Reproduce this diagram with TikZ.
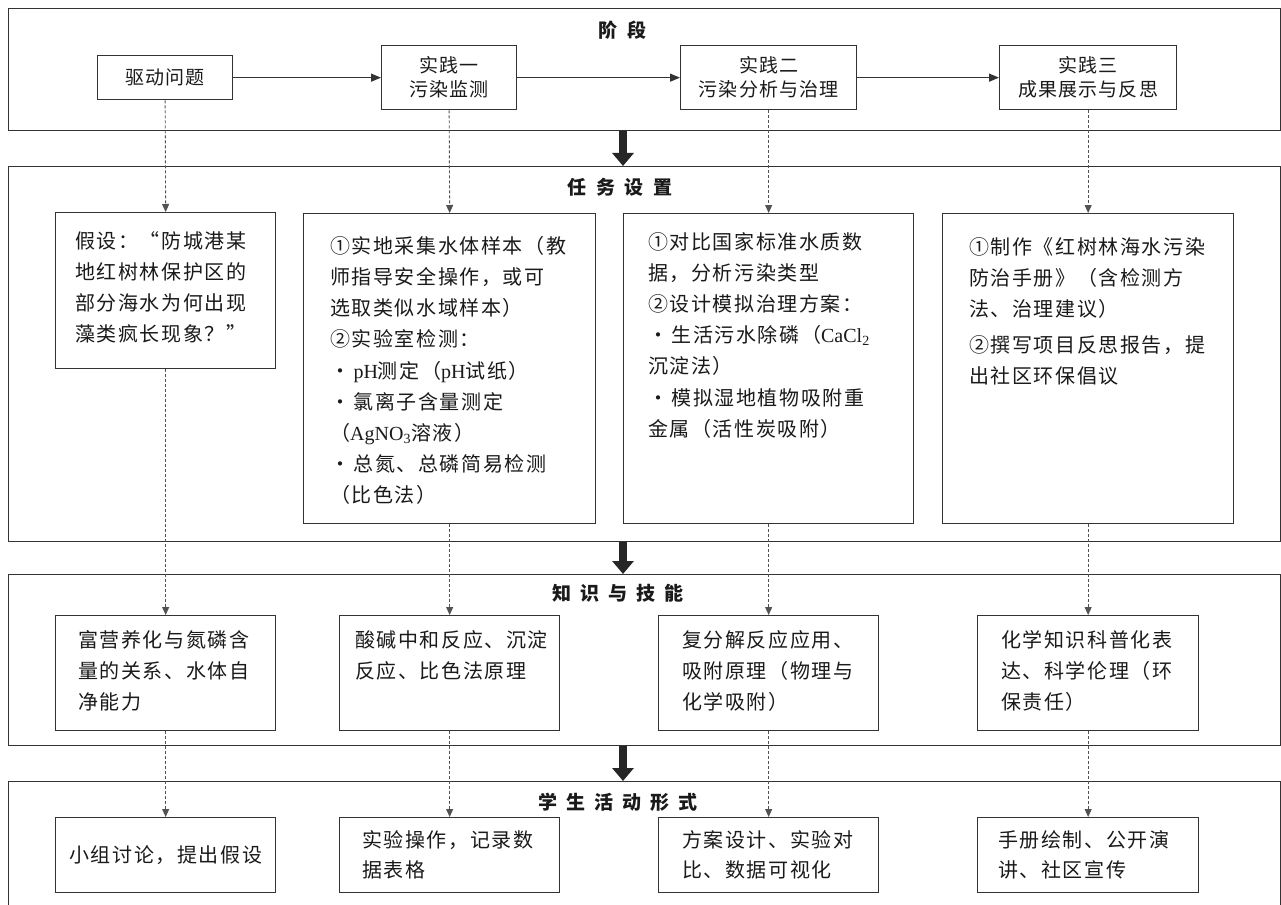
\documentclass[tikz,border=0pt]{standalone}
\usepackage{fontspec}
\setmainfont{Noto Sans CJK SC}
\newfontfamily\lat{Liberation Serif}
\usetikzlibrary{arrows.meta,calc}
\definecolor{lineC}{HTML}{333333}
\definecolor{textC}{HTML}{1A1A1A}
\tikzset{
  bandbox/.style={draw=lineC, line width=1.3pt, inner sep=0pt, anchor=north west},
  boxn/.style={draw=lineC, line width=1.3pt, inner sep=0pt, anchor=north west, fill=white},
  stagebox/.style={boxn, align=center, text=textC,
    font=\fontsize{19}{24}\selectfont\addfontfeature{LetterSpace=6}},
  txt/.style={inner sep=0pt, anchor=north west, align=left, text=textC,
    font=\fontsize{20}{31.2}\selectfont\addfontfeature{LetterSpace=8}},
  txtb/.style={txt, font=\fontsize{20}{30}\selectfont\addfontfeature{LetterSpace=8}},
  ttl/.style={inner sep=0pt, text=textC, font=\fontsize{19}{22}\selectfont\bfseries},
  arr/.style={draw=lineC, line width=1.3pt, -{Triangle[length=10pt,width=8pt]}},
  darr/.style={draw=lineC!85, line width=0.9pt, dash pattern=on 3pt off 2pt,
    -{Triangle[length=8pt,width=7pt]}},
  bigarr/.style={draw=black!85, line width=8pt, -{Triangle[length=13pt,width=21pt]}}
}
\begin{document}
\begin{tikzpicture}[x=1pt,y=-1pt]
\useasboundingbox (0,0) rectangle (1281,904);
\fill[white] (0,0) rectangle (1281,904);
\coordinate (ax) at (623,0);

% ---------- bands ----------
\node[bandbox, minimum width=1272pt, minimum height=122pt] (b1) at (8,8) {};
\node[bandbox, minimum width=1272pt, minimum height=375pt] (b2) at (8,166) {};
\node[bandbox, minimum width=1272pt, minimum height=171pt] (b3) at (8,574) {};
\node[bandbox, minimum width=1272pt, minimum height=130pt] (b4) at (8,781) {};

% ---------- titles ----------
\node[ttl] (h1) at (622,30) {阶\hspace{10pt}段};
\node[ttl] (h2) at (620,187) {任\hspace{10pt}务\hspace{10pt}设\hspace{10pt}置};
\node[ttl] (h3) at (618,593) {知\hspace{9pt}识\hspace{9pt}与\hspace{9pt}技\hspace{9pt}能};
\node[ttl] (h4) at (618,802) {学\hspace{9pt}生\hspace{9pt}活\hspace{9pt}动\hspace{9pt}形\hspace{9pt}式};

% ---------- stage boxes ----------
\node[stagebox, minimum width=135pt, minimum height=44pt] (s0) at (97,55) {驱动问题};
\node[stagebox, minimum width=135pt, minimum height=64pt] (s1) at (381,45) {实践一\\污染监测};
\node[stagebox, minimum width=176pt, minimum height=64pt] (s2) at (680,45) {实践二\\污染分析与治理};
\node[stagebox, minimum width=177pt, minimum height=64pt] (s3) at (999,45) {实践三\\成果展示与反思};
\draw[arr] (s0.east) -- (s0.east -| s1.west);
\draw[arr] (s1.east) -- (s1.east -| s2.west);
\draw[arr] (s2.east) -- (s2.east -| s3.west);

% ---------- task boxes ----------
\node[boxn, minimum width=220pt, minimum height=156pt] (t0) at (55,212) {};
\node[boxn, minimum width=292pt, minimum height=310pt] (t1) at (303,213) {};
\node[boxn, minimum width=290pt, minimum height=310pt] (t2) at (623,213) {};
\node[boxn, minimum width=291pt, minimum height=310pt] (t3) at (942,213) {};

\node[txt] (t0x) at (75,231) {假设：“防城港某\\地红树林保护区的\\部分海水为何出现\\藻类疯长现象？”};
\node[txt] (t1x) at (330,236) {①实地采集水体样本（教\\师指导安全操作，或可\\选取类似水域样本）\\②实验室检测：\\·\,{\lat pH}测定（{\lat pH}试纸）\\·\,氯离子含量测定\\（{\lat AgNO\textsubscript{3}}溶液）\\·\,总氮、总磷简易检测\\（比色法）};
\node[txt] (t2x) at (648,232) {①对比国家标准水质数\\据，分析污染类型\\②设计模拟治理方案：\\·\,生活污水除磷（{\lat CaCl\textsubscript{2}}\\沉淀法）\\·\,模拟湿地植物吸附重\\金属（活性炭吸附）};
\node[txt] (t3x) at (969,237) {①制作《红树林海水污染\\防治手册》（含检测方\\法、治理建议）\\[5pt]②撰写项目反思报告，提\\出社区环保倡议};

% ---------- knowledge boxes ----------
\node[boxn, minimum width=220pt, minimum height=115pt] (k0) at (55,615) {};
\node[boxn, minimum width=220pt, minimum height=115pt] (k1) at (339,615) {};
\node[boxn, minimum width=220pt, minimum height=115pt] (k2) at (658,615) {};
\node[boxn, minimum width=221pt, minimum height=115pt] (k3) at (977,615) {};
\node[txt] (k0x) at (78,630) {富营养化与氮磷含\\量的关系、水体自\\净能力};
\node[txt] (k1x) at (355,630) {酸碱中和反应、沉淀\\反应、比色法原理};
\node[txt] (k2x) at (682,630) {复分解反应应用、\\吸附原理（物理与\\化学吸附）};
\node[txt] (k3x) at (1001,630) {化学知识科普化表\\达、科学伦理（环\\保责任）};

% ---------- activity boxes ----------
\node[boxn, minimum width=220pt, minimum height=75pt, align=center, text=textC,
  font=\fontsize{20}{30}\selectfont\addfontfeature{LetterSpace=8}] (a0) at (55,817) {小组讨论，提出假设};
\node[boxn, minimum width=220pt, minimum height=75pt] (a1) at (339,817) {};
\node[boxn, minimum width=220pt, minimum height=75pt] (a2) at (658,817) {};
\node[boxn, minimum width=221pt, minimum height=75pt] (a3) at (977,817) {};
\node[txtb] (a1x) at (362,830) {实验操作，记录数\\据表格};
\node[txtb] (a2x) at (682,830) {方案设计、实验对\\比、数据可视化};
\node[txtb] (a3x) at (998,830) {手册绘制、公开演\\讲、社区宣传};

% ---------- dashed connectors ----------
\foreach \i in {0,1,2,3}{
  \draw[darr] (s\i.south) -- (t\i.north);
  \draw[darr] (t\i.south) -- (k\i.north);
  \draw[darr] (k\i.south) -- (a\i.north);
}

% ---------- big arrows ----------
\draw[bigarr] (b1.south -| ax) -- (b2.north -| ax);
\draw[bigarr] (b2.south -| ax) -- (b3.north -| ax);
\draw[bigarr] (b3.south -| ax) -- (b4.north -| ax);
\end{tikzpicture}
\end{document}
